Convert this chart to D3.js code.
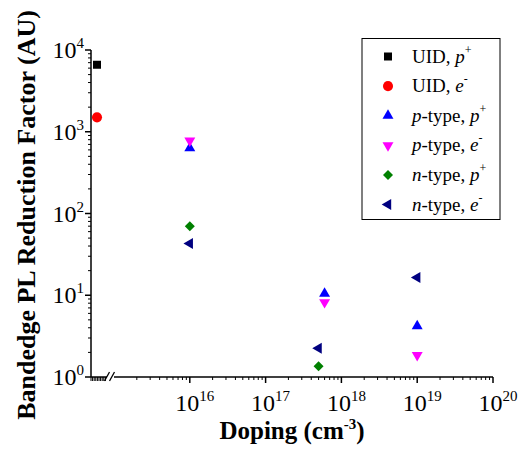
<!DOCTYPE html>
<html>
<head>
<meta charset="utf-8">
<script src="https://cdn.jsdelivr.net/npm/d3@7"></script>
<style>
  body { margin: 0; background: #fff; }
  text { font-family: "Liberation Serif", "Times New Roman", serif; }
</style>
</head>
<body>
<div id="graph"></div>
<script>
// values
const uidP = [6600];
const uidE = [1500];
const pTypeDoping = [1e16, 6e17, 1e19];
const pTypeP = [630, 10.5, 4.2];
const pTypeE = [780, 8.2, 1.85];
const nTypeDoping = [1e16, 5e17, 1e19];
const nTypeP = [70, 1.35, null];
const nTypeE = [43, 2.25, 16.5];
const xTicks = [1e16, 1e17, 1e18, 1e19, 1e20];
const yTicks = [1, 10, 100, 1000, 10000];

const W = 522, H = 449;
const margin = { top: 50, right: 29, bottom: 72, left: 91 };

function container() { return document.querySelector("#graph"); }

const svg = d3.select(container()).append("svg")
    .attr("width", W).attr("height", H);

const x = d3.scaleLog().domain([1e15, 1e20]).range([114, W - margin.right]);
const y = d3.scaleLog().domain([1, 1e4]).range([H - margin.bottom, margin.top]);
const xUid = 97; // UID points sit on the broken-off segment of the axis

const series = [
    { name: ["UID, ", "p", "+"], type: d3.symbolSquare, size: 64, rot: 0, color: "#000", pts: uidP.map(v => [null, v]) },
    { name: ["UID, ", "e", "-"], type: d3.symbolCircle, size: 80, rot: 0, color: "#ff0000", pts: uidE.map(v => [null, v]) },
    { name: ["p", "-type, ", "p", "+"], type: d3.symbolTriangle, size: 52, rot: 0, color: "#0000ff", pts: pTypeDoping.map((d, i) => [d, pTypeP[i]]) },
    { name: ["p", "-type, ", "e", "-"], type: d3.symbolTriangle, size: 52, rot: 180, color: "#ff00ff", pts: pTypeDoping.map((d, i) => [d, pTypeE[i]]) },
    { name: ["n", "-type, ", "p", "+"], type: d3.symbolSquare, size: 50, rot: 45, color: "#008000", pts: nTypeDoping.map((d, i) => [d, nTypeP[i]]) },
    { name: ["n", "-type, ", "e", "-"], type: d3.symbolTriangle, size: 52, rot: -90, color: "#000080", pts: nTypeDoping.map((d, i) => [d, nTypeE[i]]) },
];

const axes = svg.append("g").attr("stroke", "#000").attr("fill", "none");
const y0 = y.range()[0];

// y axis line + ticks (outside, left)
axes.append("line").attr("x1", margin.left).attr("x2", margin.left)
    .attr("y1", y0).attr("y2", margin.top).attr("stroke-width", 1.5);
for (let e = 0; e < 4; e++) {
    for (let m = 2; m < 10; m++) {
        const v = m * Math.pow(10, e);
        axes.append("line").attr("x1", margin.left - 3).attr("x2", margin.left)
            .attr("y1", y(v)).attr("y2", y(v));
    }
}
yTicks.forEach(v => {
    axes.append("line").attr("x1", margin.left - 6).attr("x2", margin.left)
        .attr("y1", y(v)).attr("y2", y(v)).attr("stroke-width", 1.5);
});

// x axis: main log segment
axes.append("line").attr("x1", 114).attr("x2", x.range()[1])
    .attr("y1", y0).attr("y2", y0).attr("stroke-width", 1.5);
for (let e = 15; e < 20; e++) {
    for (let m = 2; m < 10; m++) {
        const v = m * Math.pow(10, e);
        axes.append("line").attr("x1", x(v)).attr("x2", x(v))
            .attr("y1", y0).attr("y2", y0 + 3);
    }
}
xTicks.forEach(v => {
    axes.append("line").attr("x1", x(v)).attr("x2", x(v))
        .attr("y1", y0).attr("y2", y0 + 6).attr("stroke-width", 1.5);
});

// x axis: UID segment with packed ticks and break marks
axes.append("line").attr("x1", margin.left).attr("x2", 107)
    .attr("y1", y0).attr("y2", y0).attr("stroke-width", 1.5);
d3.range(margin.left, 107, 1.6).forEach(px => {
    axes.append("line").attr("x1", px).attr("x2", px)
        .attr("y1", y0).attr("y2", y0 + 4).attr("stroke-width", 1);
});
[107, 112].forEach(px => {
    axes.append("line").attr("x1", px - 2.5).attr("x2", px + 2.5)
        .attr("y1", y0 + 4).attr("y2", y0 - 5).attr("stroke-width", 1.3);
});

// tick labels
const lab = svg.append("g").attr("font-size", 24).attr("fill", "#000");
yTicks.forEach(v => {
    const t = lab.append("text").attr("x", margin.left - 7).attr("y", y(v) + 8)
        .attr("text-anchor", "end");
    t.append("tspan").text("10");
    t.append("tspan").attr("dy", -10).attr("font-size", 15).text(Math.round(Math.log10(v)));
});
xTicks.forEach(v => {
    const t = lab.append("text").attr("x", x(v) + 5).attr("y", y0 + 34)
        .attr("text-anchor", "middle");
    t.append("tspan").text("10");
    t.append("tspan").attr("dy", -10).attr("font-size", 15).text(Math.round(Math.log10(v)));
});

// axis titles
const xt = svg.append("text").attr("x", 292).attr("y", 439).attr("text-anchor", "middle")
    .attr("font-size", 25).attr("font-weight", "bold");
xt.append("tspan").text("Doping (cm");
xt.append("tspan").attr("dy", -10).attr("font-size", 15).text("-3");
xt.append("tspan").attr("dy", 10).text(")");

svg.append("text").attr("transform", "translate(35,215) rotate(-90)")
    .attr("text-anchor", "middle").attr("font-size", 26).attr("font-weight", "bold")
    .text("Bandedge PL Reduction Factor (AU)");

// points
const sym = s => d3.symbol().type(s.type).size(s.size)();
series.forEach(s => {
    svg.append("g").selectAll("path")
        .data(s.pts.filter(p => p[1] != null))
        .join("path")
        .attr("d", sym(s))
        .attr("transform", p => `translate(${p[0] == null ? xUid : x(p[0])},${y(p[1])}) rotate(${s.rot})`)
        .attr("fill", s.color);
});

// legend
const lg = svg.append("g");
lg.append("rect").attr("x", 362).attr("y", 38.5).attr("width", 138).attr("height", 181)
    .attr("fill", "#fff").attr("stroke", "#000").attr("stroke-width", 1);
series.forEach((s, i) => {
    const ly = 56.5 + i * 29.6;
    lg.append("path").attr("d", sym(s))
        .attr("transform", `translate(388,${ly}) rotate(${s.rot})`).attr("fill", s.color);
    const t = lg.append("text").attr("x", 412).attr("y", ly + 6).attr("font-size", 19);
    const parts = s.name;
    parts.forEach((p, j) => {
        const isSup = j === parts.length - 1;
        const isItal = (p === "p" || p === "n" || p === "e");
        const ts = t.append("tspan").text(p);
        if (isItal) ts.attr("font-style", "italic");
        if (isSup) ts.attr("dy", -9).attr("font-size", 12);
    });
});
</script>
</body>
</html>
